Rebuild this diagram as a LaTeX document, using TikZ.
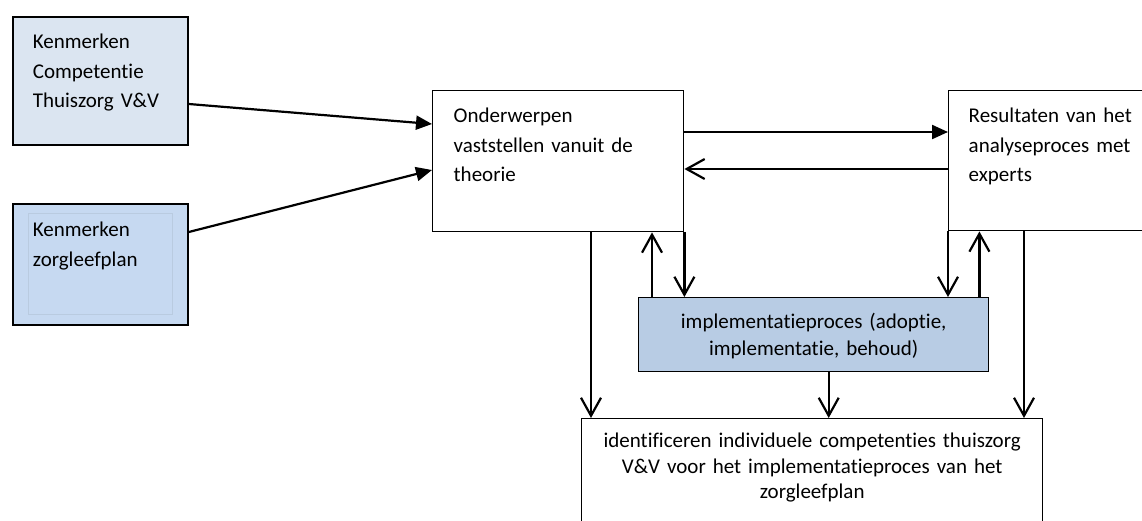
\documentclass[tikz,border=0pt]{standalone}
\usepackage{fontspec}
\setmainfont{Carlito}[Ligatures={NoCommon}]
\usepackage{tikz}
\usetikzlibrary{arrows.meta}
\definecolor{paleblue}{HTML}{DBE5F1}
\definecolor{midblue}{HTML}{C6D9F1}
\definecolor{procblue}{HTML}{B8CCE4}
\definecolor{innerline}{HTML}{B9CBE0}

\begin{document}
\begin{tikzpicture}[x=1pt, y=-1pt,
        block/.style={rectangle, draw, anchor=north west, inner ysep=0pt, inner xsep=20pt, align=left, line width=1.4pt, font=\fontsize{21}{29.5}\selectfont},
        midblock/.style={block, inner xsep=10pt, align=center},
        fwd/.style={-{Triangle[length=16pt,width=14pt]}, line width=2.2pt, black},
        back/.style={-{Straight Barb[length=18pt,width=20pt]}, line width=2.2pt, black},
    ]
    \useasboundingbox (0,0) rectangle (1142,520);
    \clip (0,0) rectangle (1142,520);
    \node[block, fill=paleblue, line width=1.8pt, text width=135pt, text height=32pt, text depth=96pt] (kenComp) at (12,16) {Kenmerken\\Competentie\\Thuiszorg V\&V};
    \node[block, fill=midblue, line width=1.8pt, text width=135pt, text height=33pt, text depth=88pt] (kenZorg) at (12,203) {Kenmerken\\zorgleefplan};
    \draw[innerline, line width=.8pt] ([shift={(16,10)}]kenZorg.north west) rectangle ([shift={(-16,-11)}]kenZorg.south east);
    \node[block, inner xsep=21pt, text width=209pt, text height=32pt, text depth=109pt] (onder) at (432,90) {Onderwerpen\\vaststellen vanuit de\\theorie};
    \node[block, text width=200pt, text height=32pt, text depth=108pt] (result) at (948,90) {Resultaten van het\\analyseproces met\\experts};
    \node[midblock, fill=procblue, text width=330pt, text height=31pt, text depth=43pt, font=\fontsize{21}{27}\selectfont] (impl) at (638,297) {implementatieproces (adoptie,\\implementatie, behoud)};
    \node[midblock, text width=441pt, text height=29pt, text depth=91pt, font=\fontsize{21}{25.5}\selectfont] (ident) at (581,418) {identificeren individuele competenties thuiszorg\\V\&V voor het implementatieproces van het\\zorgleefplan};

    \draw[fwd] ([shift={(0,88)}]kenComp.north east) -- ([shift={(0,34)}]onder.north west);
    \draw[fwd] ([shift={(0,29)}]kenZorg.north east) -- ([shift={(0,80)}]onder.north west);
    \draw[fwd] ([shift={(0,42)}]onder.north east) -- ([shift={(0,42)}]result.north west);
    \draw[back] ([shift={(0,79)}]result.north west) -- ([shift={(0,79)}]onder.north east);

    \coordinate (cLeft) at ([xshift=159pt]onder.south west);
    \coordinate (iUpL) at ([xshift=14pt]impl.north west);
    \coordinate (iUpR) at ([xshift=-10pt]impl.north east);
    \coordinate (iDown) at ([xshift=15pt]impl.south);
    \coordinate (rRight) at ([xshift=76pt]result.south west);
    \draw[back] (cLeft) -- (cLeft |- ident.north);
    \draw[back] (onder.south east) -- (onder.south east |- impl.north);
    \draw[back] (iUpL) -- (iUpL |- onder.south);
    \draw[back] (result.south west) -- (result.south west |- impl.north);
    \draw[back] (iUpR) -- (iUpR |- result.south);
    \draw[back] (iDown) -- (iDown |- ident.north);
    \draw[back] (rRight) -- (rRight |- ident.north);
\end{tikzpicture}
\end{document}
